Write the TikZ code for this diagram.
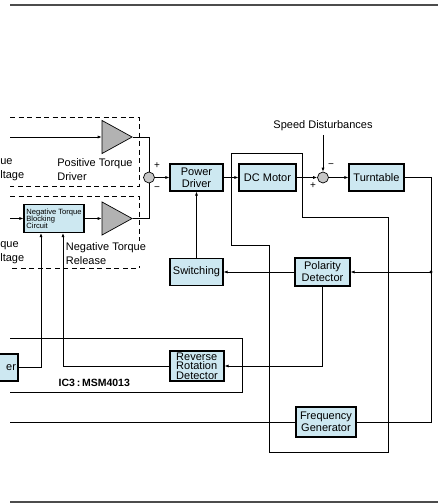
\documentclass[tikz,border=0pt]{standalone}
\usepackage{fontspec}
\setmainfont{Liberation Sans}
\usetikzlibrary{arrows.meta,shapes.geometric}
\definecolor{boxblue}{RGB}{205,232,241}
\definecolor{ampgray}{RGB}{178,178,178}

\begin{document}
\begin{tikzpicture}[x=1pt,y=-1pt,
  font=\fontsize{11}{14}\selectfont,
  >={Latex[length=4pt,width=3pt]},
  line width=0.7pt,
  block/.style={draw,line width=1.1pt,fill=boxblue,minimum height=27pt,inner sep=2pt,
    align=center,font=\fontsize{11}{12}\selectfont},
  amp/.style={draw,fill=ampgray,isosceles triangle,isosceles triangle stretches,
    minimum width=33pt,minimum height=30pt,inner sep=0pt,anchor=apex},
  sum/.style={draw,circle,fill=gray!45,minimum size=11pt,inner sep=0pt},
  sign/.style={font=\fontsize{10}{10}\selectfont,inner sep=0pt},
  driverbox/.style={dash pattern=on 5pt off 3.5pt,line width=0.8pt},
  rule/.style={line width=1.3pt,gray!60!black}]
  \useasboundingbox (0,0) rectangle (438,504);
  \clip (0,0) rectangle (438,504);

  % rules
  \draw[rule] (10,5) -- (438,5);
  \draw[rule] (10,502) -- (438,502);

  % dashed driver boxes
  \draw[driverbox] (10,117) -- (139,117) -- (139,186) -- (10,186);
  \draw[driverbox] (10,196) -- (139,196) -- (139,268) -- (10,268);

  % IC3 and motor outlines
  \draw[line width=1pt] (10,338) -- (242,338) -- (242,392) -- (10,392);
  \draw[line width=1pt] (231,153) -- (302,153) -- (302,217) -- (388,217) -- (388,452)
    -- (269,452) -- (269,245) -- (231,245) -- cycle;

  % labels
  \node[anchor=west,align=left,inner sep=0pt] (posv) at (0,170) {ue\\ltage};
  \node[anchor=west,align=left,inner sep=0pt] (posd) at (57,170) {Positive Torque\\Driver};
  \node[anchor=west,align=left,inner sep=0pt] (negv) at (0,252.5) {que\\ltage};
  \node[anchor=west,align=left,inner sep=1pt,fill=white] (negr) at (64.5,253.5) {Negative Torque\\Release};
  \node (sd) at (323,126) {Speed Disturbances};
  \node[anchor=west,font=\bfseries\fontsize{10.5}{12}\selectfont] (ic) at (55,383) {IC3\,:\,MSM4013};

  % blocks
  \node[block,minimum width=53pt] (pd) at (196.5,177.5) {Power\\Driver};
  \node[block,minimum width=57pt] (motor) at (267.5,177.5) {DC Motor};
  \node[block,minimum width=55pt] (turn) at (376.5,177.5) {Turntable};
  \node[block,minimum width=53pt] (sw) at (196.5,272) {Switching};
  \node[block,minimum width=55pt,minimum height=28pt] (pol) at (322.5,272) {Polarity\\Detector};
  \node[block,minimum width=60pt,minimum height=30pt] (fg) at (326,422) {Frequency\\Generator};
  \node[block,minimum width=54pt,minimum height=30pt,align=left,inner sep=1pt,
    font=\fontsize{11}{9.6}\selectfont] (rrd) at (197,366) {Reverse\\Rotation\\Detector};
  \node[block,minimum width=60pt,minimum height=28pt,align=left,inner sep=1pt,
    font=\fontsize{7.6}{7.2}\selectfont] (ntb) at (54,218.5) {Negative Torque\\Blocking\\Circuit};
  \node[block,text width=22pt,align=right] (drv) at (5,367.5) {er};

  % amplifiers and summing points
  \node[amp] (a1) at (133,137) {};
  \node[amp] (a2) at (133,218.5) {};
  \node[sum] (s1) at (149,177.5) {};
  \node[sum] (s2) at (323,177.5) {};
  \node[sign] at (157,166) {+};
  \node[sign] at (157,189) {−};
  \node[sign] at (313,186) {+};
  \node[sign] at (331,166) {−};

  \coordinate (in1) at (10,137);
  \coordinate (in2) at (10,218.5);
  \coordinate (fgout) at (10,422);
  \coordinate (j) at (431,272);

  % connectors
  \draw[->] (in1) -- (a1.west);
  \draw (a1.apex) -| (s1.north);
  \draw[->] (in2) -- (ntb.west);
  \draw[->] (ntb.east) -- (a2.west);
  \draw (a2.apex) -| (s1.south);
  \draw[->] (s1) -- (pd);
  \draw[->] (pd) -- (motor);
  \draw[->] (motor) -- (s2);
  \draw[->] (sd) -- (s2);
  \draw[->] (s2) -- (turn);
  \draw (turn.east) -| (j);
  \draw[->] (j) -- (pol.east);
  \draw (j) |- (fg.east);
  \fill (j) circle[radius=1.6pt];
  \draw[->] (pol) -- (sw);
  \draw[->] (sw) -- (pd);
  \draw[->] (pol.south) |- (rrd.east);
  \draw[->] (rrd.west) -| ([xshift=9pt]ntb.south);
  \draw[->] (drv.east) -| ([xshift=-13pt]ntb.south);
  \draw (fg.west) -- (fgout);
\end{tikzpicture}
\end{document}
